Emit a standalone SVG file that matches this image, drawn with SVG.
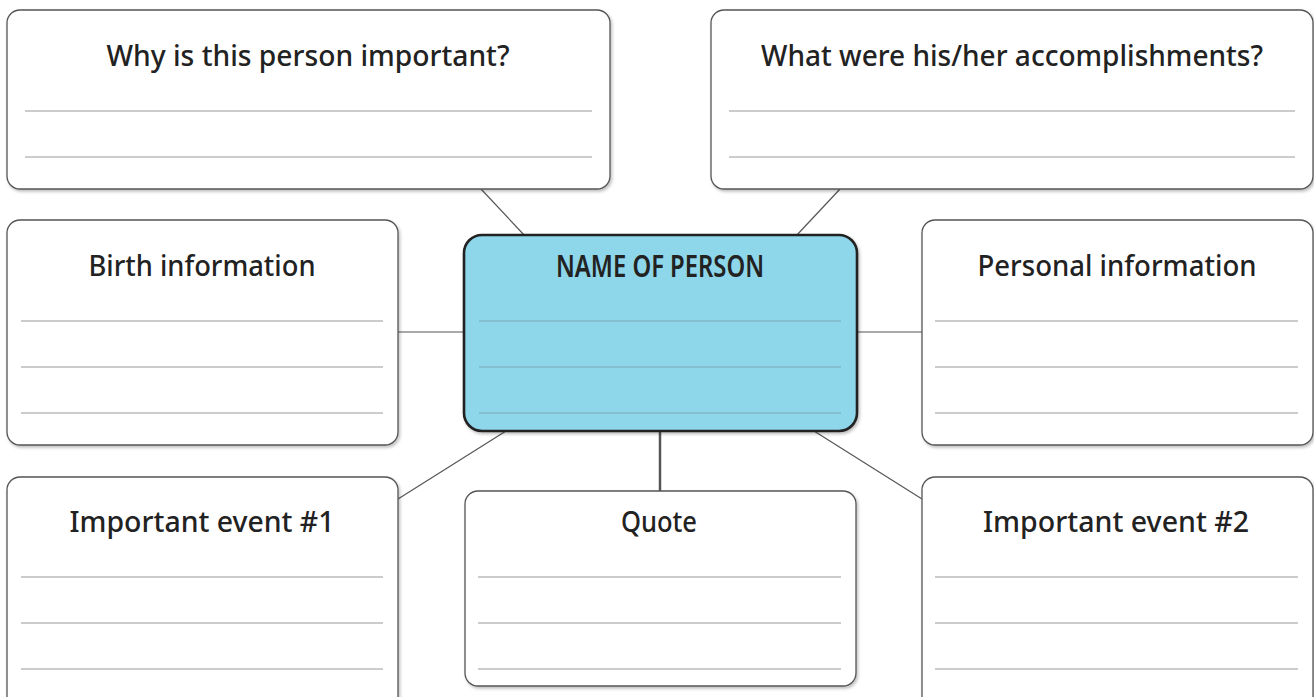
<svg xmlns="http://www.w3.org/2000/svg" width="1314" height="697" viewBox="0 0 1314 697">
<defs>
<filter id="sh" x="-5%" y="-5%" width="110%" height="115%">
<feDropShadow dx="1.5" dy="2" stdDeviation="1.5" flood-color="#000" flood-opacity="0.25"/>
</filter>
</defs>
<style>
.box{fill:#fff;stroke:#555;stroke-width:1.3;filter:url(#sh)}
.main{fill:#8ed6ea;stroke:#222;stroke-width:2.6;filter:url(#sh)}
.rule{stroke:#9a9a9a;stroke-width:1.2}
.mrule{stroke:#78a7b4;stroke-width:1.2}
.t{font-family:"Noto Sans","DejaVu Sans",sans-serif;font-size:28.5px;font-weight:500;fill:#222;text-anchor:middle}
.big{font-size:30px;font-weight:600}
.c{stroke:#555;stroke-width:1.2;fill:none}
</style>
<g id="connectors">
<line class="c" x1="481" y1="189" x2="525" y2="236"/>
<line class="c" x1="840" y1="189" x2="796" y2="236"/>
<line class="c" x1="398" y1="332" x2="464" y2="332"/>
<line class="c" x1="857" y1="332" x2="922" y2="332"/>
<line class="c" x1="506" y1="431" x2="398" y2="499"/>
<line class="c" x1="660" y1="431" x2="660" y2="491" style="stroke-width:2.5"/>
<line class="c" x1="814" y1="431" x2="922" y2="499"/>
</g>
<g id="why">
<rect class="box" x="7" y="10" width="603" height="179" rx="13"/>
<text class="t" x="308" y="66" textLength="403" lengthAdjust="spacingAndGlyphs">Why is this person important?</text>
<line class="rule" x1="25" y1="111" x2="592" y2="111"/>
<line class="rule" x1="25" y1="157" x2="592" y2="157"/>
</g>
<g id="accomplishments">
<rect class="box" x="711" y="10" width="602" height="179" rx="13"/>
<text class="t" x="1012" y="66" textLength="502" lengthAdjust="spacingAndGlyphs">What were his/her accomplishments?</text>
<line class="rule" x1="729" y1="111" x2="1295" y2="111"/>
<line class="rule" x1="729" y1="157" x2="1295" y2="157"/>
</g>
<g id="birth">
<rect class="box" x="7" y="220" width="391" height="225" rx="13"/>
<text class="t" x="202" y="276" textLength="227" lengthAdjust="spacingAndGlyphs">Birth information</text>
<line class="rule" x1="21" y1="321" x2="383" y2="321"/>
<line class="rule" x1="21" y1="367" x2="383" y2="367"/>
<line class="rule" x1="21" y1="413" x2="383" y2="413"/>
</g>
<g id="name">
<rect class="main" x="464" y="235" width="393" height="196" rx="18"/>
<text class="t big" x="660" y="277" textLength="208" lengthAdjust="spacingAndGlyphs">NAME OF PERSON</text>
<line class="mrule" x1="479" y1="321" x2="841" y2="321"/>
<line class="mrule" x1="479" y1="367" x2="841" y2="367"/>
<line class="mrule" x1="479" y1="413" x2="841" y2="413"/>
</g>
<g id="personal">
<rect class="box" x="922" y="220" width="391" height="225" rx="13"/>
<text class="t" x="1117" y="276" textLength="279" lengthAdjust="spacingAndGlyphs">Personal information</text>
<line class="rule" x1="935" y1="321" x2="1298" y2="321"/>
<line class="rule" x1="935" y1="367" x2="1298" y2="367"/>
<line class="rule" x1="935" y1="413" x2="1298" y2="413"/>
</g>
<g id="event1">
<rect class="box" x="7" y="477" width="391" height="235" rx="13"/>
<text class="t" x="202" y="532" textLength="265" lengthAdjust="spacingAndGlyphs">Important event #1</text>
<line class="rule" x1="21" y1="577" x2="383" y2="577"/>
<line class="rule" x1="21" y1="623" x2="383" y2="623"/>
<line class="rule" x1="21" y1="669" x2="383" y2="669"/>
</g>
<g id="quote">
<rect class="box" x="465" y="491" width="391" height="195" rx="13"/>
<text class="t" x="659" y="532" textLength="76" lengthAdjust="spacingAndGlyphs">Quote</text>
<line class="rule" x1="478" y1="577" x2="841" y2="577"/>
<line class="rule" x1="478" y1="623" x2="841" y2="623"/>
<line class="rule" x1="478" y1="669" x2="841" y2="669"/>
</g>
<g id="event2">
<rect class="box" x="922" y="477" width="391" height="235" rx="13"/>
<text class="t" x="1116" y="532" textLength="266" lengthAdjust="spacingAndGlyphs">Important event #2</text>
<line class="rule" x1="935" y1="577" x2="1298" y2="577"/>
<line class="rule" x1="935" y1="623" x2="1298" y2="623"/>
<line class="rule" x1="935" y1="669" x2="1298" y2="669"/>
</g>
</svg>
